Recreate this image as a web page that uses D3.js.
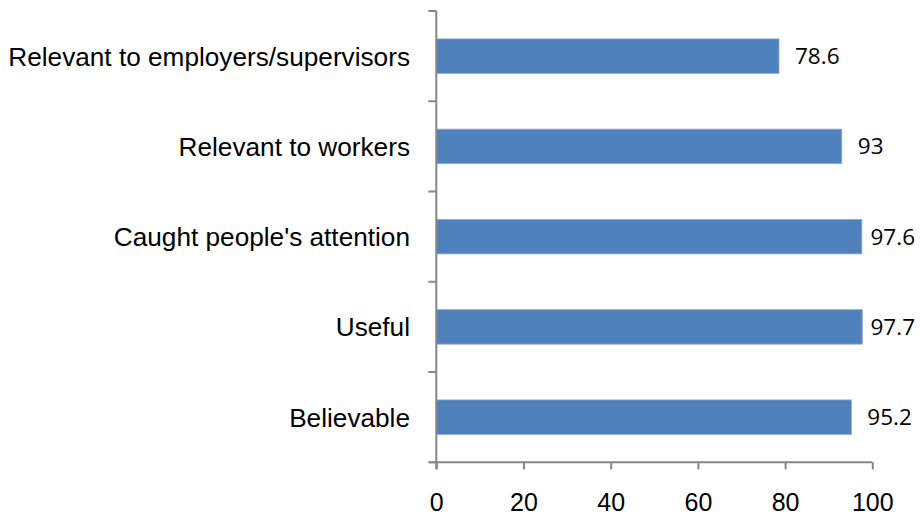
<!DOCTYPE html>
<html>
<head>
<meta charset="utf-8">
<script src="https://cdn.jsdelivr.net/npm/d3@7"></script>
<style>
  html, body { margin: 0; padding: 0; background: #fff; }
  svg { display: block; }
</style>
</head>
<body>
<svg id="chart" width="920" height="519"></svg>
<script>
// Survey ratings, listed top to bottom
const categories = [
  "Relevant to employers/supervisors",
  "Relevant to workers",
  "Caught people's attention",
  "Useful",
  "Believable"
];
const values = [78.6, 93, 97.6, 97.7, 95.2];
const xTicks = [0, 20, 40, 60, 80, 100];

const svg = d3.select("#chart");
const plotLeft = 436.3, plotRight = 872.3, plotTop = 11, plotBottom = 462.3;
const axisColor = "#868686";
const barColor = "#4F81BD";

const x = d3.scaleLinear().domain([0, 100]).range([plotLeft, plotRight]);
const y = d3.scaleBand().domain(categories).range([plotTop, plotBottom]).paddingInner(0).paddingOuter(0);
const barH = y.step() * 0.382;

// Bars
svg.append("g").selectAll("rect")
  .data(categories)
  .join("rect")
  .attr("x", x(0))
  .attr("y", d => y(d) + (y.bandwidth() - barH) / 2)
  .attr("width", (d, i) => x(values[i]) - x(0))
  .attr("height", barH)
  .attr("fill", barColor)
  .attr("stroke", "#8EAAD6")
  .attr("stroke-width", 0.8);

// Category axis: ticks sit on the band boundaries
const yAxis = svg.append("g");
yAxis.append("line")
  .attr("x1", plotLeft).attr("x2", plotLeft)
  .attr("y1", plotTop).attr("y2", plotBottom + 7)
  .attr("stroke", axisColor).attr("stroke-width", 2);
const bounds = categories.map(c => y(c)).concat([plotBottom]);
yAxis.selectAll("line.tick")
  .data(bounds)
  .join("line")
  .attr("class", "tick")
  .attr("x1", plotLeft - 8).attr("x2", plotLeft)
  .attr("y1", d => d).attr("y2", d => d)
  .attr("stroke", axisColor).attr("stroke-width", 2);
yAxis.selectAll("text")
  .data(categories)
  .join("text")
  .attr("x", 410)
  .attr("y", d => y(d) + y.bandwidth() / 2)
  .attr("dy", "0.36em")
  .attr("text-anchor", "end")
  .attr("font-family", "'Liberation Sans', Arial, sans-serif")
  .attr("font-size", 26.2)
  .attr("fill", "#000")
  .text(d => d);

// Value axis
const xAxis = svg.append("g")
  .attr("transform", `translate(0,${plotBottom})`)
  .call(d3.axisBottom(x).tickValues(xTicks).tickSize(7).tickPadding(24).tickFormat(d3.format("d")));
xAxis.select(".domain")
  .attr("d", `M${plotLeft - 7},0H${plotRight}`)
  .attr("stroke", axisColor).attr("stroke-width", 2);
xAxis.selectAll(".tick line").attr("stroke", axisColor).attr("stroke-width", 2);
xAxis.selectAll(".tick text")
  .attr("font-family", "'Liberation Sans', Arial, sans-serif")
  .attr("font-size", 25)
  .attr("fill", "#000");

// Value labels, kept inside the right edge
const labels = svg.append("g").selectAll("text")
  .data(categories)
  .join("text")
  .attr("y", d => y(d) + y.bandwidth() / 2)
  .attr("dy", "0.36em")
  .attr("font-family", "'Open Sans', 'Noto Sans', sans-serif")
  .attr("font-size", 22.5)
  .attr("fill", "#000")
  .text((d, i) => d3.format("")(values[i]));
labels.attr("x", function(d, i) {
  const w = this.getComputedTextLength();
  return Math.min(x(values[i]) + 16, 915 - w);
});
</script>
</body>
</html>
